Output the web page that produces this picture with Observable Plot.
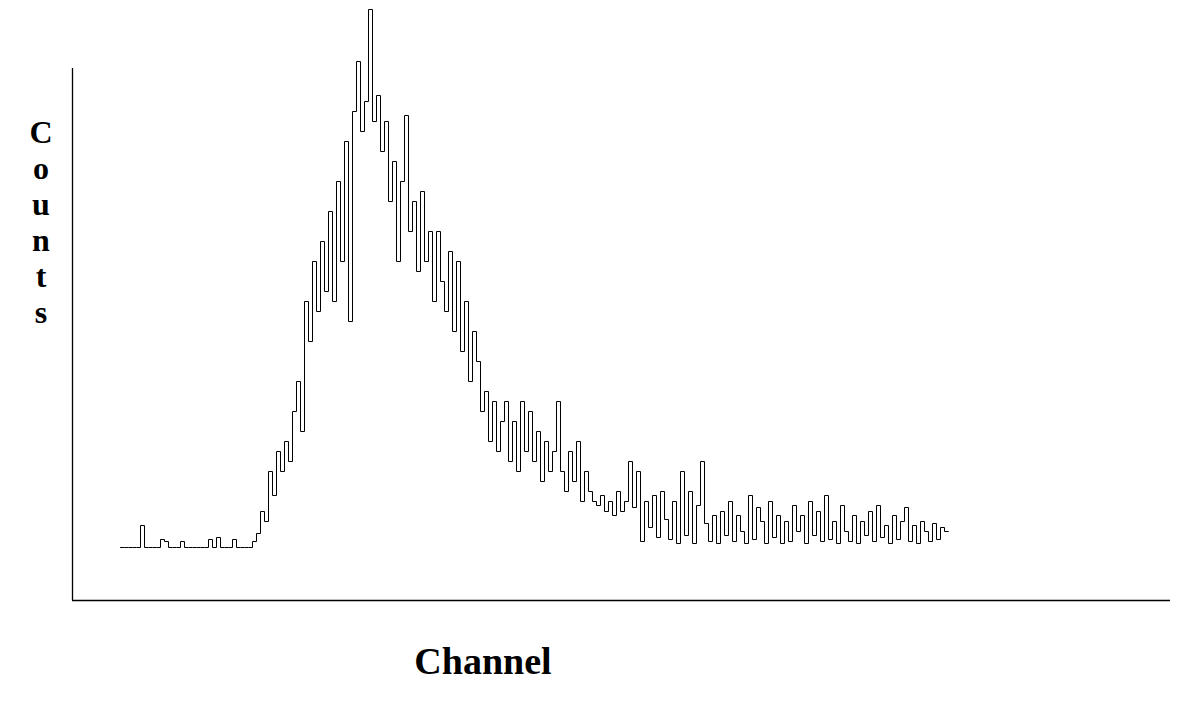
<!DOCTYPE html>
<html>
<head>
<meta charset="utf-8">
<script src="https://cdn.jsdelivr.net/npm/d3@7"></script>
<script src="https://cdn.jsdelivr.net/npm/@observablehq/plot@0.6"></script>
<style>
  html, body { margin: 0; padding: 0; background: #fff; }
  #wrap { position: relative; width: 1177px; height: 708px; overflow: hidden; }
  #chart { position: absolute; left: 0; top: 0; }
  .ylab { position: absolute; left: 24px; top: 114px; width: 34px; text-align: center;
          font-family: "Liberation Serif", "Times New Roman", serif; font-weight: bold;
          font-size: 32px; line-height: 36px; color: #000; }
  .xlab { position: absolute; left: 410px; top: 642px; width: 146px; text-align: center;
          font-family: "Liberation Serif", "Times New Roman", serif; font-weight: bold;
          font-size: 38px; line-height: 38px; color: #000; white-space: nowrap; }
</style>
</head>
<body>
<div id="wrap">
  <div id="chart"></div>
  <div class="ylab" id="ylab"></div>
  <div class="xlab" id="xlab"></div>
</div>
<script>
// ---- data ----
const firstChannel = 12;
const counts = [
  0, 0, 0, 0, 0, 11, 0, 0, 0, 0,          // 12-21
  4, 3, 0, 0, 0, 3, 0, 0, 0, 0,           // 22-31
  0, 0, 4, 0, 5, 0, 0, 0, 4, 0,           // 32-41
  0, 0, 0, 3, 7, 18, 13, 38, 26, 48,      // 42-51
  38, 53, 43, 68, 83, 58, 123, 103, 143, 118, // 52-61
  153, 128, 168, 123, 183, 143, 203, 113, 218, 243, // 62-71
  208, 223, 269, 213, 226, 198, 213, 173, 193, 143, // 72-81
  183, 216, 158, 173, 138, 178, 143, 158, 123, 158, // 82-91
  133, 118, 148, 108, 143, 98, 123, 83, 108, 93,    // 92-101
  68, 78, 53, 73, 48, 63, 73, 43, 63, 38,           // 102-111
  73, 48, 68, 43, 58, 33, 53, 38, 48, 73,           // 112-121
  38, 28, 48, 33, 53, 23, 38, 28, 23, 21,           // 122-131
  26, 18, 23, 16, 28, 18, 23, 43, 20, 38,           // 132-141
  3, 23, 10, 26, 5, 28, 14, 4, 23, 2,               // 142-151
  38, 6, 28, 2, 21, 43, 12, 3, 16, 2,               // 152-161
  18, 6, 23, 3, 16, 8, 2, 26, 4, 20,                // 162-171
  13, 2, 23, 5, 16, 2, 13, 3, 21, 8,                // 172-181
  16, 2, 23, 6, 18, 3, 26, 4, 13, 2,                // 182-191
  21, 8, 3, 16, 2, 13, 6, 18, 3, 21,                // 192-201
  5, 11, 2, 16, 4, 13, 20, 3, 11, 2,                // 202-211
  13, 8, 3, 12, 4, 10, 8, 8                         // 212-219
];
const xDomain = [0, 274.5];
const yDomain = [-26.5, 239.5];
const xTitle = "Channel";
const yTitle = "Counts";

const data = counts.map((v, i) => ({channel: firstChannel + i, count: v}));

const chart = Plot.plot({
  width: 1177,
  height: 708,
  marginLeft: 72,
  marginRight: 7,
  marginTop: 68,
  marginBottom: 108,
  x: {domain: xDomain, axis: null},
  y: {domain: yDomain, axis: null},
  style: {background: "#fff"},
  marks: [
    Plot.ruleX([xDomain[0]], {y1: yDomain[0], y2: yDomain[1], stroke: "#000", strokeWidth: 1.3}),
    Plot.ruleY([yDomain[0]], {x1: xDomain[0], x2: xDomain[1], stroke: "#000", strokeWidth: 1.3}),
    Plot.line(data, {x: "channel", y: "count", curve: "step-after", stroke: "#000", strokeWidth: 1})
  ]
});
document.getElementById("chart").appendChild(chart);
document.getElementById("ylab").innerHTML = yTitle.split("").map(c => `<div>${c}</div>`).join("");
document.getElementById("xlab").textContent = xTitle;
</script>
</body>
</html>
